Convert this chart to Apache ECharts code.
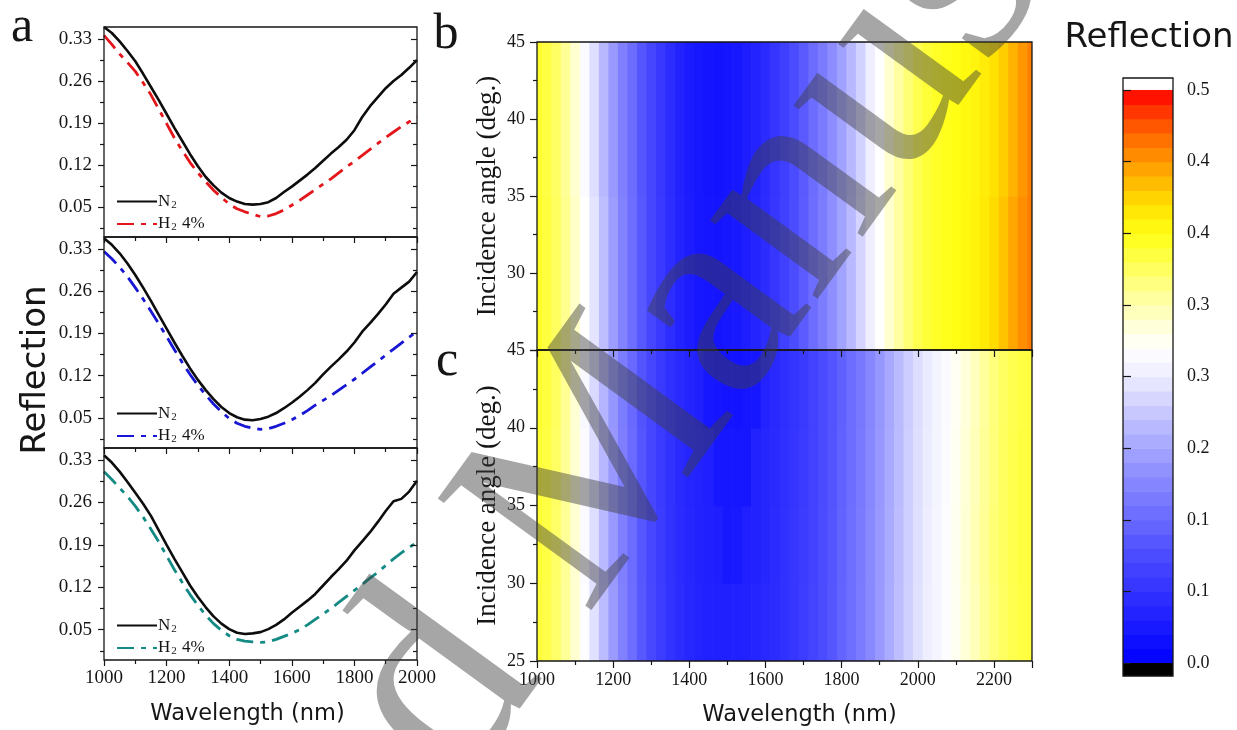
<!DOCTYPE html>
<html>
<head>
<meta charset="utf-8">
<script src="https://cdn.jsdelivr.net/npm/echarts@6/dist/echarts.min.js"></script>
<style>
  html, body { margin: 0; padding: 0; background: #fff; }
  #main { width: 1237px; height: 730px; }
</style>
</head>
<body>
<div id="main"></div>
<script>
// ---- panel a: reflection spectra (N2 vs H2 4%) ----
const wavelengths = [1000, 1025, 1050, 1075, 1100, 1125, 1150, 1175, 1200, 1225, 1250, 1275, 1300, 1325,
  1350, 1375, 1400, 1425, 1450, 1475, 1500, 1525, 1550, 1575, 1600, 1625, 1650, 1675, 1700, 1725,
  1750, 1775, 1800, 1825, 1850, 1875, 1900, 1925, 1950, 1975, 2000];

const n2Top = [0.350, 0.340, 0.326, 0.310, 0.293, 0.272, 0.250, 0.228, 0.205, 0.182, 0.160, 0.138, 0.118, 0.100,
  0.086, 0.074, 0.065, 0.059, 0.055, 0.054, 0.055, 0.058, 0.065, 0.075, 0.084, 0.094, 0.104, 0.115, 0.127, 0.139,
  0.150, 0.162, 0.178, 0.200, 0.218, 0.233, 0.248, 0.260, 0.270, 0.282, 0.295];
const h2Top = [0.336, 0.321, 0.305, 0.291, 0.276, 0.257, 0.237, 0.213, 0.189, 0.165, 0.144, 0.124, 0.107, 0.092,
  0.078, 0.066, 0.055, 0.047, 0.042, 0.038, 0.034, 0.035, 0.039, 0.045, 0.053, 0.061, 0.070, 0.079, 0.088, 0.097,
  0.107, 0.117, 0.126, 0.136, 0.146, 0.156, 0.166, 0.175, 0.184, 0.192, 0.200];

const n2Mid = [0.348, 0.337, 0.323, 0.306, 0.287, 0.266, 0.244, 0.221, 0.198, 0.175, 0.153, 0.132, 0.113, 0.096,
  0.081, 0.068, 0.058, 0.051, 0.047, 0.046, 0.048, 0.052, 0.058, 0.066, 0.075, 0.085, 0.096, 0.108, 0.122, 0.135,
  0.147, 0.160, 0.175, 0.193, 0.207, 0.222, 0.238, 0.256, 0.266, 0.276, 0.292];
const h2Mid = [0.326, 0.314, 0.300, 0.284, 0.266, 0.247, 0.227, 0.206, 0.185, 0.163, 0.142, 0.122, 0.104, 0.088,
  0.073, 0.060, 0.049, 0.041, 0.036, 0.033, 0.031, 0.032, 0.036, 0.041, 0.047, 0.054, 0.062, 0.071, 0.079, 0.087,
  0.096, 0.105, 0.114, 0.124, 0.134, 0.144, 0.154, 0.164, 0.174, 0.184, 0.193];

const n2Bot = [0.338, 0.326, 0.311, 0.294, 0.276, 0.258, 0.238, 0.214, 0.190, 0.167, 0.145, 0.123, 0.104, 0.087,
  0.072, 0.060, 0.051, 0.045, 0.043, 0.044, 0.046, 0.051, 0.058, 0.067, 0.078, 0.088, 0.098, 0.109, 0.123, 0.137,
  0.150, 0.164, 0.181, 0.196, 0.211, 0.228, 0.246, 0.262, 0.266, 0.278, 0.296];
const h2Bot = [0.311, 0.298, 0.284, 0.270, 0.254, 0.236, 0.216, 0.195, 0.172, 0.149, 0.128, 0.108, 0.090, 0.074,
  0.060, 0.049, 0.040, 0.034, 0.031, 0.030, 0.029, 0.030, 0.034, 0.039, 0.044, 0.050, 0.058, 0.067, 0.076, 0.085,
  0.095, 0.105, 0.115, 0.125, 0.135, 0.145, 0.156, 0.167, 0.177, 0.186, 0.194];

const reflTicks = [0.05, 0.12, 0.19, 0.26, 0.33];
const reflMinorTicks = [0.015, 0.085, 0.155, 0.225, 0.295];

// ---- panels b, c: reflection maps (wavelength x incidence angle) ----
const mapWavelengths = [1000, 1025, 1050, 1075, 1100, 1125, 1150, 1175, 1200, 1225, 1250, 1275, 1300, 1325,
  1350, 1375, 1400, 1425, 1450, 1475, 1500, 1525, 1550, 1575, 1600, 1625, 1650, 1675, 1700, 1725, 1750, 1775,
  1800, 1825, 1850, 1875, 1900, 1925, 1950, 1975, 2000, 2025, 2050, 2075, 2100, 2125, 2150, 2175, 2200, 2225,
  2250, 2275, 2300];

const anglesB = [30, 40];
const mapB = [
  [0.368, 0.357, 0.344, 0.325, 0.302, 0.275, 0.243, 0.210, 0.180, 0.153, 0.129, 0.108, 0.088, 0.071, 0.056, 0.044,
   0.035, 0.029, 0.026, 0.025, 0.027, 0.031, 0.037, 0.045, 0.055, 0.067, 0.080, 0.095, 0.111, 0.128, 0.146, 0.165,
   0.185, 0.206, 0.229, 0.253, 0.276, 0.298, 0.318, 0.335, 0.350, 0.360, 0.367, 0.372, 0.376, 0.380, 0.385, 0.392,
   0.402, 0.415, 0.430, 0.442, 0.452],
  [0.365, 0.355, 0.342, 0.322, 0.298, 0.270, 0.238, 0.205, 0.176, 0.150, 0.127, 0.106, 0.087, 0.070, 0.055, 0.043,
   0.034, 0.028, 0.025, 0.024, 0.026, 0.030, 0.036, 0.044, 0.054, 0.066, 0.079, 0.094, 0.110, 0.127, 0.145, 0.164,
   0.184, 0.205, 0.228, 0.252, 0.275, 0.298, 0.318, 0.335, 0.350, 0.360, 0.367, 0.372, 0.376, 0.380, 0.384, 0.390,
   0.398, 0.410, 0.424, 0.438, 0.450]
];

const anglesC = [27.5, 32.5, 37.5, 42.5];
const mapC = [
  [0.360, 0.352, 0.340, 0.322, 0.298, 0.272, 0.240, 0.208, 0.178, 0.152, 0.128, 0.108, 0.090, 0.076, 0.064, 0.055,
   0.048, 0.044, 0.041, 0.040, 0.040, 0.041, 0.043, 0.046, 0.050, 0.055, 0.061, 0.068, 0.076, 0.085, 0.095, 0.106,
   0.118, 0.131, 0.145, 0.160, 0.176, 0.193, 0.210, 0.226, 0.240, 0.252, 0.262, 0.272, 0.282, 0.294, 0.308, 0.322,
   0.334, 0.343, 0.350, 0.355, 0.358],
  [0.362, 0.354, 0.341, 0.322, 0.297, 0.270, 0.238, 0.206, 0.176, 0.150, 0.127, 0.107, 0.089, 0.075, 0.063, 0.054,
   0.047, 0.043, 0.040, 0.038, 0.030, 0.031, 0.039, 0.043, 0.048, 0.054, 0.060, 0.067, 0.075, 0.084, 0.094, 0.105,
   0.117, 0.130, 0.144, 0.159, 0.175, 0.192, 0.209, 0.225, 0.239, 0.251, 0.262, 0.272, 0.283, 0.295, 0.309, 0.323,
   0.335, 0.344, 0.351, 0.356, 0.359],
  [0.363, 0.355, 0.342, 0.322, 0.296, 0.268, 0.236, 0.204, 0.175, 0.149, 0.126, 0.106, 0.088, 0.074, 0.062, 0.053,
   0.046, 0.042, 0.039, 0.029, 0.027, 0.027, 0.029, 0.042, 0.047, 0.053, 0.059, 0.066, 0.074, 0.083, 0.093, 0.104,
   0.116, 0.129, 0.143, 0.158, 0.174, 0.191, 0.208, 0.224, 0.238, 0.250, 0.261, 0.271, 0.282, 0.294, 0.308, 0.322,
   0.334, 0.344, 0.351, 0.356, 0.359],
  [0.365, 0.357, 0.344, 0.323, 0.296, 0.266, 0.234, 0.202, 0.173, 0.147, 0.124, 0.104, 0.087, 0.073, 0.061, 0.052,
   0.045, 0.040, 0.029, 0.026, 0.024, 0.024, 0.026, 0.029, 0.044, 0.051, 0.058, 0.065, 0.073, 0.082, 0.092, 0.103,
   0.115, 0.128, 0.142, 0.157, 0.173, 0.190, 0.207, 0.223, 0.237, 0.249, 0.260, 0.270, 0.281, 0.292, 0.306, 0.320,
   0.333, 0.343, 0.350, 0.355, 0.358]
];

// colour bar
const barTicks = [0, 0.0625, 0.125, 0.1875, 0.25, 0.3125, 0.375, 0.4375, 0.5];
const barLevels = [0, 0.0125, 0.025, 0.0375, 0.05, 0.0625, 0.075, 0.0875, 0.1, 0.1125, 0.125, 0.1375, 0.15,
  0.1625, 0.175, 0.1875, 0.2, 0.2125, 0.225, 0.2375, 0.25, 0.2625, 0.275, 0.2875, 0.3, 0.3125, 0.325, 0.3375,
  0.35, 0.3625, 0.375, 0.3875, 0.4, 0.4125, 0.425, 0.4375, 0.45, 0.4625, 0.475, 0.4875, 0.5];
const barCaps = [[-0.0113, 0], [0.5, 0.5105]];

const SERIF = 'Liberation Serif';
const SANS = 'DejaVu Sans';
const INK = '#161616';
const cmap = ['#0000ff', '#1414ff', '#2828ff', '#3c3cff', '#5050ff', '#6a6aff', '#7f7fff', '#9898ff', '#b2b2ff',
  '#cfcfff', '#ececff', '#ffffff', '#ffffcc', '#ffff90', '#ffff50', '#ffff14', '#ffe000', '#ffb000', '#ff8000',
  '#ff4800', '#ff0000'];

const chart = echarts.init(document.getElementById('main'));

const gridBoxes = [
  { left: 104, top: 27, width: 313, height: 210 },
  { left: 104, top: 237, width: 313, height: 211 },
  { left: 104, top: 448, width: 313, height: 212 },
  { left: 537, top: 42, width: 495, height: 308 },
  { left: 537, top: 350, width: 495, height: 311 },
  { left: 1123, top: 78, width: 50, height: 598 }
];
const grid = gridBoxes.map(b => Object.assign({
  show: true, borderColor: INK, borderWidth: 1.3, backgroundColor: 'transparent', z: 10
}, b));

const tickLine = { color: INK, width: 1.2 };
const tickFont = { fontFamily: SERIF, fontSize: 19, color: INK };
const plain = v => String(v);

const xAxis = [];
const yAxis = [];
const panels = [[n2Top, h2Top], [n2Mid, h2Mid], [n2Bot, h2Bot]];
const h2Colors = ['#e3161c', '#1616d4', '#138a83'];

panels.forEach((p, i) => {
  const last = i === 2;
  xAxis.push({
    gridIndex: i, type: 'value', min: 1000, max: 2000, interval: 200, position: 'bottom', z: 12,
    axisLine: { show: false, onZero: false },
    axisTick: { show: true, inside: false, length: 6, lineStyle: tickLine },
    minorTick: { show: true, splitNumber: 2, length: 4, lineStyle: tickLine },
    splitLine: { show: false },
    axisLabel: Object.assign({ show: last, margin: 9, formatter: plain }, tickFont),
    name: last ? 'Wavelength (nm)' : '', nameLocation: 'middle', nameGap: 43,
    nameTextStyle: { fontFamily: SANS, fontSize: 22.5, color: INK, padding: [0, 26, 0, 0] }
  });
  const yBase = { gridIndex: i, type: 'value', min: 0, max: 0.35, z: 12,
    axisLine: { show: false }, splitLine: { show: false } };
  yAxis.push(Object.assign({}, yBase, {
    position: 'left',
    axisTick: { show: true, inside: false, length: 6, customValues: reflTicks, lineStyle: tickLine },
    axisLabel: Object.assign({ show: true, customValues: reflTicks, margin: 12,
      formatter: v => v.toFixed(2) }, tickFont)
  }));
  yAxis.push(Object.assign({}, yBase, {
    position: 'left', axisLabel: { show: false },
    axisTick: { show: true, inside: false, length: 4, customValues: reflMinorTicks, lineStyle: tickLine }
  }));
  yAxis.push(Object.assign({}, yBase, {
    position: 'right', axisLabel: { show: false },
    axisTick: { show: true, inside: true, length: 6, customValues: reflTicks, lineStyle: tickLine }
  }));
  yAxis.push(Object.assign({}, yBase, {
    position: 'right', axisLabel: { show: false },
    axisTick: { show: true, inside: true, length: 4, customValues: reflMinorTicks, lineStyle: tickLine }
  }));
});

[3, 4].forEach(g => {
  const last = g === 4;
  xAxis.push({
    gridIndex: g, type: 'value', min: 1000, max: 2300, interval: 200, position: 'bottom', z: 12,
    axisLine: { show: false, onZero: false },
    axisTick: { show: true, inside: false, length: 7, lineStyle: tickLine },
    minorTick: { show: true, splitNumber: 2, length: 4, lineStyle: tickLine },
    splitLine: { show: false },
    axisLabel: Object.assign({ show: last, margin: 10, formatter: plain, showMaxLabel: false }, tickFont, { fontSize: 18 }),
    name: last ? 'Wavelength (nm)' : '', nameLocation: 'middle', nameGap: 43,
    nameTextStyle: { fontFamily: SANS, fontSize: 22.5, color: INK, padding: [0, 0, 0, 30] }
  });
  yAxis.push({
    gridIndex: g, type: 'value', min: 25, max: 45, interval: 5, position: 'left', z: 12,
    axisLine: { show: false, onZero: false },
    axisTick: { show: true, inside: false, length: 7, lineStyle: tickLine },
    minorTick: { show: true, splitNumber: 2, length: 4, lineStyle: tickLine },
    splitLine: { show: false },
    axisLabel: Object.assign({ show: true, margin: 12, showMinLabel: last }, tickFont, { fontSize: 18 }),
    name: 'Incidence angle (deg.)', nameLocation: 'middle', nameGap: 36,
    nameTextStyle: { fontFamily: SERIF, fontSize: 27, color: INK }
  });
});

// colour bar axes
xAxis.push({ gridIndex: 5, type: 'value', min: 0, max: 1, show: false });
yAxis.push({
  gridIndex: 5, type: 'value', min: -0.0113, max: 0.5105, position: 'right', z: 12,
  axisLine: { show: false }, splitLine: { show: false },
  axisTick: { show: true, inside: false, length: 8, customValues: barTicks, lineStyle: tickLine },
  axisLabel: Object.assign({ show: true, margin: 14, customValues: barTicks,
    formatter: v => v.toFixed(1) }, tickFont, { fontSize: 18 })
});

const series = [];
panels.forEach((p, i) => {
  const names = ['n2_' + i, 'h2_' + i];
  series.push({
    name: names[0], type: 'line', xAxisIndex: i, yAxisIndex: i * 4, symbol: 'none', z: 3,
    data: wavelengths.map((w, k) => [w, p[0][k]]),
    lineStyle: { color: '#0d0d0d', width: 2.6 }, itemStyle: { color: '#0d0d0d' }
  });
  series.push({
    name: names[1], type: 'line', xAxisIndex: i, yAxisIndex: i * 4, symbol: 'none', z: 2,
    data: wavelengths.map((w, k) => [w, p[1][k]]),
    lineStyle: { color: h2Colors[i], width: 2.8, type: [17, 7, 5, 7], cap: 'butt' },
    itemStyle: { color: h2Colors[i] }
  });
});

function cellRenderer(halfW, halfH) {
  return function (params, api) {
    const w = api.value(0);
    const a = api.value(1);
    const p0 = api.coord([w - halfW, a + halfH]);
    const p1 = api.coord([w + halfW, a - halfH]);
    return {
      type: 'rect',
      shape: { x: p0[0], y: p0[1], width: p1[0] - p0[0] + 0.7, height: p1[1] - p0[1] + 0.7 },
      style: { fill: api.visual('color') }
    };
  };
}
function mapData(angles, rows) {
  const out = [];
  angles.forEach((a, r) => rows[r].forEach((v, k) => out.push([mapWavelengths[k], a, v])));
  return out;
}
series.push({
  type: 'custom', xAxisIndex: 3, yAxisIndex: 12, clip: true, silent: true,
  renderItem: cellRenderer(12.5, 5), data: mapData(anglesB, mapB)
});
series.push({
  type: 'custom', xAxisIndex: 4, yAxisIndex: 13, clip: true, silent: true,
  renderItem: cellRenderer(12.5, 2.5), data: mapData(anglesC, mapC)
});
// colour bar levels
series.push({
  type: 'custom', xAxisIndex: 5, yAxisIndex: 14, silent: true,
  data: barLevels.slice(0, -1).map((lo, k) => [lo, barLevels[k + 1], (lo + barLevels[k + 1]) / 2]),
  renderItem: (params, api) => {
    const p0 = api.coord([0, api.value(1)]);
    const p1 = api.coord([1, api.value(0)]);
    return { type: 'rect', shape: { x: p0[0], y: p0[1], width: p1[0] - p0[0], height: p1[1] - p0[1] + 0.6 },
      style: { fill: api.visual('color') } };
  }
});
series.push({
  type: 'custom', xAxisIndex: 5, yAxisIndex: 14, silent: true, data: barCaps,
  renderItem: (params, api) => {
    const p0 = api.coord([0, api.value(1)]);
    const p1 = api.coord([1, api.value(0)]);
    return { type: 'rect', shape: { x: p0[0], y: p0[1], width: p1[0] - p0[0], height: p1[1] - p0[1] },
      style: { fill: params.dataIndex === 0 ? '#000000' : '#ffffff' } };
  }
});

const legendText = { n2: 'N{sub|2}', h2: 'H{sub|2} 4%' };
const legendTops = [188, 400, 612];
const legend = legendTops.map((top, i) => ({
  orient: 'vertical', left: 111, top, itemWidth: 40, itemHeight: 12, itemGap: 5,
  selectedMode: false, data: ['n2_' + i, 'h2_' + i],
  itemStyle: { opacity: 0 },
  formatter: name => legendText[name.slice(0, 2)],
  textStyle: { fontFamily: SERIF, fontSize: 17, color: INK, padding: [0, 0, 0, -4],
    rich: { sub: { fontFamily: SERIF, fontSize: 11, color: INK, verticalAlign: 'bottom', padding: [7, 1, 0, 1] } } }
}));

const graphic = [
  { type: 'text', x: 22, y: 28, style: { text: 'a', font: '50px "Liberation Serif"', fill: INK, textAlign: 'center', textVerticalAlign: 'middle' } },
  { type: 'text', x: 446, y: 35, style: { text: 'b', font: '50px "Liberation Serif"', fill: INK, textAlign: 'center', textVerticalAlign: 'middle' } },
  { type: 'text', x: 447, y: 362, style: { text: 'c', font: '50px "Liberation Serif"', fill: INK, textAlign: 'center', textVerticalAlign: 'middle' } },
  { type: 'text', x: 36, y: 370, rotation: Math.PI / 2, style: { text: 'Reflection', font: '34px "DejaVu Sans"', fill: INK, textAlign: 'center', textVerticalAlign: 'middle' } },
  { type: 'text', x: 1149, y: 38, style: { text: 'Reflection', font: '34px "DejaVu Sans"', fill: INK, textAlign: 'center', textVerticalAlign: 'middle' } },
  // "Accepted Manuscript" watermark laid over the figure
  { type: 'text', x: 570, y: 510, z: 100, rotation: 54 * Math.PI / 180, silent: true,
    style: { text: 'Accepted Manuscript', font: '290px "Liberation Serif"', fill: '#3c3c3c', opacity: 0.46,
      textAlign: 'center', textVerticalAlign: 'middle' } }
];

chart.setOption({
  animation: false,
  backgroundColor: '#ffffff',
  grid, xAxis, yAxis, series, legend, graphic,
  visualMap: {
    type: 'continuous', show: false, min: 0, max: 0.5, dimension: 2,
    seriesIndex: [6, 7, 8], inRange: { color: cmap }
  }
});
</script>
</body>
</html>
